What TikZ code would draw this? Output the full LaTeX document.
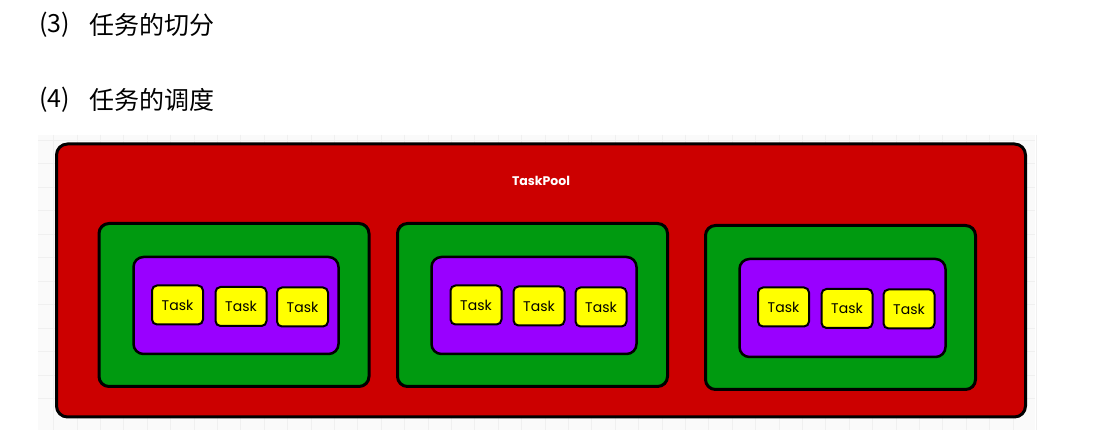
\documentclass[tikz,border=0pt]{standalone}
\usepackage{fontspec}
\newfontfamily\cjk{Noto Sans CJK SC}
\newfontfamily\pop{Poppins}
\definecolor{poolred}{HTML}{CC0000}
\definecolor{grpgreen}{HTML}{009A10}
\definecolor{grppurple}{HTML}{9900FF}
\definecolor{taskyellow}{HTML}{FFFF00}
\definecolor{gridbg}{HTML}{FAFAFA}
\definecolor{gridline}{HTML}{F0F0F0}
\tikzset{
  heading/.style={anchor=west, inner sep=0pt, font=\cjk\fontsize{25}{28}\selectfont, text=black},
  poolbox/.style={draw=black, line width=3pt, fill=poolred, rounded corners=11pt, inner sep=0pt},
  grpbox/.style={draw=black, line width=3pt, fill=grpgreen, rounded corners=10pt, inner sep=0pt, minimum width=270pt, minimum height=163pt},
  inbox/.style={draw=black, line width=2.5pt, fill=grppurple, rounded corners=10pt, inner sep=0pt, minimum width=205pt, minimum height=97pt},
  taskbox/.style={draw=black, line width=2pt, fill=taskyellow, rounded corners=5pt, inner sep=0pt, minimum width=51pt, minimum height=39pt, font=\pop\fontsize{14}{16}\selectfont},
  poollabel/.style={text=white, inner sep=0pt, font=\pop\bfseries\fontsize{12.5}{14}\selectfont}
}
\begin{document}
\begin{tikzpicture}[x=1pt,y=-1pt]
\useasboundingbox (0,0) rectangle (1096,438);
\fill[white] (0,0) rectangle (1096,438);
% grid background
\fill[gridbg] (38,135) rectangle (1035,430);
\foreach \gx in {0,...,42} {
  \draw[gridline, line width=0.8pt] ({53.5+23.4*\gx},135) -- ({53.5+23.4*\gx},430);
}
\foreach \gy in {0,...,11} {
  \draw[gridline, line width=0.8pt] (38,{140+23.5*\gy}) -- (1035,{140+23.5*\gy});
}
% headings
\node[heading] (h3n) at (39,25) {(3)};
\node[heading] (h3t) at (89,25) {任务的切分};
\node[heading] (h4n) at (39,100) {(4)};
\node[heading] (h4t) at (89,100) {任务的调度};
% pool
\node[poolbox, minimum width=969pt, minimum height=273pt] (pool) at (541,280.5) {};
\node[poollabel] (poolname) at (541,181) {TaskPool};
% groups
\node[grpbox] (g1) at (234,305) {};
\node[grpbox] (g2) at (532.5,305) {};
\node[grpbox, minimum height=164pt] (g3) at (840.5,307.5) {};
\node[inbox] (p1) at (236,305.5) {};
\node[inbox] (p2) at (534,305.5) {};
\node[inbox, minimum width=206pt, minimum height=98pt] (p3) at (842.5,308) {};
% tasks
\node[taskbox] (t11) at (177.5,305) {Task};
\node[taskbox] (t12) at (241,306.5) {Task};
\node[taskbox] (t13) at (302.5,307) {Task};
\node[taskbox] (t21) at (476,305) {Task};
\node[taskbox] (t22) at (539,306) {Task};
\node[taskbox] (t23) at (601,307) {Task};
\node[taskbox] (t31) at (783.5,307) {Task};
\node[taskbox] (t32) at (847,308.5) {Task};
\node[taskbox] (t33) at (909,309) {Task};
\end{tikzpicture}
\end{document}
